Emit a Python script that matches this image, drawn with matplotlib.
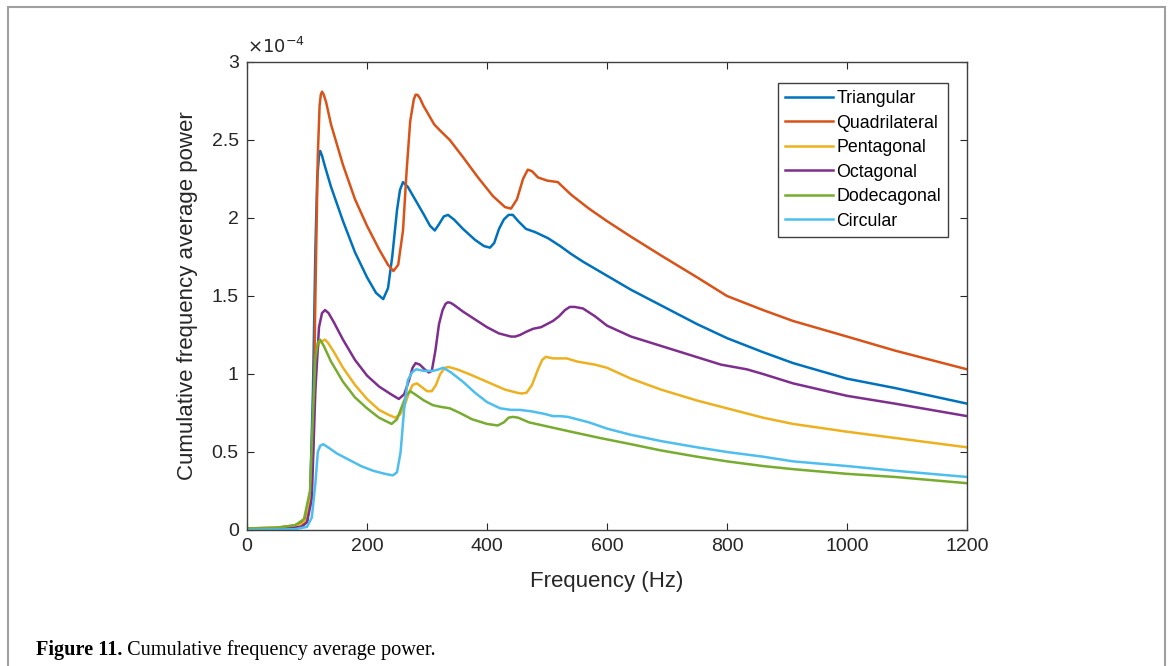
import numpy as np
import matplotlib
matplotlib.use("Agg")
import matplotlib.pyplot as plt
from matplotlib.patches import Rectangle
from matplotlib.ticker import FormatStrFormatter

# values, power in units of 1e-4
tri_f = [0, 60, 90, 100, 105, 110, 114, 117, 120, 122, 125, 130, 140, 160, 180, 200, 215, 227, 235,
         242, 250, 255, 260, 268, 280, 295, 305, 313, 320, 328, 335, 345, 360, 380, 395, 405, 412,
         420, 428, 436, 443, 452, 465, 480, 502, 522, 540, 560, 600, 640, 690, 750, 800, 860, 910,
         1000, 1080, 1140, 1200]
tri_p = [0.005, 0.01, 0.02, 0.05, 0.2, 0.9, 1.8, 2.25, 2.40, 2.43, 2.40, 2.33, 2.2, 1.98, 1.78, 1.62,
         1.52, 1.48, 1.55, 1.75, 2.05, 2.18, 2.23, 2.2, 2.12, 2.02, 1.95, 1.92, 1.96, 2.01, 2.02,
         1.99, 1.93, 1.86, 1.82, 1.81, 1.84, 1.93, 1.99, 2.02, 2.02, 1.98, 1.93, 1.91, 1.87, 1.82,
         1.77, 1.72, 1.63, 1.54, 1.44, 1.32, 1.23, 1.14, 1.07, 0.97, 0.91, 0.86, 0.81]

quad_f = [0, 50, 80, 95, 105, 110, 114, 118, 121, 123, 125, 128, 132, 140, 160, 180, 200, 220, 235,
          244, 252, 260, 266, 272, 278, 281, 284, 288, 294, 300, 312, 322, 338, 360, 385, 410, 430,
          440, 450, 460, 468, 475, 485, 500, 518, 540, 570, 600, 640, 690, 750, 800, 860, 910, 1000,
          1080, 1140, 1200]
quad_p = [0.01, 0.015, 0.03, 0.06, 0.15, 0.5, 1.5, 2.4, 2.72, 2.79, 2.81, 2.79, 2.74, 2.6, 2.34, 2.12,
          1.95, 1.8, 1.7, 1.66, 1.70, 1.92, 2.3, 2.62, 2.76, 2.79, 2.79, 2.77, 2.72, 2.68, 2.6, 2.56,
          2.5, 2.39, 2.26, 2.14, 2.07, 2.06, 2.12, 2.25, 2.31, 2.30, 2.26, 2.24, 2.23, 2.15, 2.06,
          1.98, 1.88, 1.76, 1.62, 1.50, 1.41, 1.34, 1.24, 1.15, 1.09, 1.03]

pent_f = [0, 60, 90, 100, 107, 112, 116, 120, 125, 130, 135, 145, 160, 180, 200, 220, 235, 247, 255,
          262, 270, 276, 283, 290, 300, 308, 315, 322, 330, 336, 350, 370, 400, 430, 450, 458, 466,
          475, 485, 492, 498, 510, 533, 550, 580, 600, 640, 690, 750, 800, 860, 910, 1000, 1080,
          1140, 1200]
pent_p = [0.01, 0.012, 0.03, 0.07, 0.3, 0.8, 1.12, 1.2, 1.21, 1.22, 1.2, 1.14, 1.04, 0.93, 0.84, 0.77,
          0.74, 0.72, 0.74, 0.79, 0.88, 0.93, 0.94, 0.92, 0.89, 0.89, 0.93, 1.0, 1.04, 1.045, 1.03,
          1.0, 0.95, 0.9, 0.88, 0.875, 0.88, 0.93, 1.03, 1.09, 1.11, 1.10, 1.10, 1.08, 1.06, 1.04,
          0.97, 0.90, 0.83, 0.78, 0.72, 0.68, 0.63, 0.59, 0.56, 0.53]

oct_f = [0, 60, 90, 100, 108, 114, 120, 125, 130, 136, 145, 160, 180, 200, 220, 240, 253, 262, 270,
         276, 281, 288, 296, 303, 308, 314, 320, 326, 331, 335, 340, 346, 360, 380, 400, 420, 440,
         447, 455, 465, 477, 490, 500, 510, 520, 530, 538, 546, 560, 580, 600, 640, 690, 740, 790,
         833, 860, 910, 1000, 1080, 1140, 1200]
oct_p = [0.005, 0.008, 0.02, 0.05, 0.2, 0.9, 1.3, 1.39, 1.41, 1.39, 1.33, 1.22, 1.09, 0.99, 0.92, 0.87,
         0.84, 0.87, 0.96, 1.04, 1.07, 1.06, 1.03, 1.01, 1.02, 1.15, 1.32, 1.41, 1.45, 1.46, 1.455,
         1.44, 1.40, 1.35, 1.30, 1.26, 1.24, 1.24, 1.25, 1.27, 1.29, 1.30, 1.32, 1.34, 1.37, 1.41,
         1.43, 1.43, 1.42, 1.37, 1.31, 1.24, 1.18, 1.12, 1.06, 1.03, 1.00, 0.94, 0.86, 0.81, 0.77,
         0.73]

dodec_f = [0, 50, 80, 95, 105, 110, 114, 118, 122, 128, 140, 160, 180, 200, 220, 241, 250, 258, 265,
           272, 280, 295, 310, 322, 338, 355, 375, 400, 418, 428, 436, 443, 452, 470, 505, 540, 588,
           640, 690, 750, 800, 860, 910, 1000, 1080, 1140, 1200]
dodec_p = [0.01, 0.015, 0.03, 0.07, 0.25, 0.75, 1.1, 1.2, 1.22, 1.18, 1.08, 0.95, 0.85, 0.78, 0.72,
           0.68, 0.71, 0.79, 0.86, 0.89, 0.87, 0.83, 0.80, 0.79, 0.78, 0.75, 0.71, 0.68, 0.67, 0.69,
           0.72, 0.725, 0.72, 0.69, 0.66, 0.63, 0.59, 0.55, 0.51, 0.47, 0.44, 0.41, 0.39, 0.36, 0.34,
           0.32, 0.30]

circ_f = [0, 80, 100, 108, 114, 118, 122, 127, 135, 150, 170, 190, 210, 230, 243, 250, 256, 262, 268,
          275, 282, 295, 310, 320, 327, 340, 360, 380, 400, 422, 440, 455, 475, 495, 510, 522, 535,
          550, 570, 600, 640, 690, 750, 800, 860, 910, 1000, 1080, 1140, 1200]
circ_p = [0.0, 0.005, 0.02, 0.08, 0.3, 0.5, 0.54, 0.55, 0.53, 0.49, 0.45, 0.41, 0.38, 0.36, 0.35, 0.37,
          0.5, 0.78, 0.96, 1.01, 1.03, 1.02, 1.02, 1.03, 1.04, 1.01, 0.95, 0.88, 0.82, 0.78, 0.77,
          0.77, 0.76, 0.745, 0.73, 0.73, 0.725, 0.71, 0.69, 0.65, 0.61, 0.57, 0.53, 0.50, 0.47, 0.44,
          0.41, 0.38, 0.36, 0.34]

names = ["Triangular", "Quadrilateral", "Pentagonal", "Octagonal", "Dodecagonal", "Circular"]
colors = ["#0072BD", "#D95319", "#EDB120", "#7E2F8E", "#77AC30", "#4DBEEE"]
series = [(tri_f, tri_p), (quad_f, quad_p), (pent_f, pent_p), (oct_f, oct_p),
          (dodec_f, dodec_p), (circ_f, circ_p)]

plt.rcParams['font.family'] = ['Liberation Sans', 'DejaVu Sans']

fig = plt.figure(figsize=(11.68, 6.66), dpi=100)
ax = fig.add_axes([247/1168, 1-530/666, 720/1168, 468/666])

for (f, p), name, c in zip(series, names, colors):
    ax.plot(f, p, color=c, lw=1.8, label=name)

ax.set_xlim(0, 1200)
ax.set_ylim(0, 3)
ax.set_xticks(np.arange(0, 1201, 200))
ax.set_yticks(np.arange(0, 3.01, 0.5))
ax.yaxis.set_major_formatter(FormatStrFormatter('%g'))
ax.tick_params(direction='in', top=True, right=True, length=5, width=0.8,
               labelsize=14, colors='#262626', pad=6)
for s in ax.spines.values():
    s.set_color('#404040')
    s.set_linewidth(1.0)

ax.set_xlabel('Frequency (Hz)', fontsize=16, color='#262626', labelpad=11)
ax.set_ylabel('Cumulative frequency average power', fontsize=16, color='#262626', labelpad=10)
ax.text(0.0, 1.01, r'$\times10^{-4}$', transform=ax.transAxes, fontsize=13,
        color='#262626', va='bottom', ha='left')

leg = ax.legend(loc='upper right', bbox_to_anchor=(0.974, 0.955), borderaxespad=0,
                fontsize=12.8, handlelength=2.7, handletextpad=0.2, labelspacing=0.42,
                fancybox=False, framealpha=1, borderpad=0.4)
leg.get_frame().set_edgecolor('#404040')
leg.get_frame().set_linewidth(1.0)

# figure border and caption
fig.add_artist(Rectangle((8/1168, -0.02), 1157/1168, 1.02 - 7/666, transform=fig.transFigure,
                         fill=False, edgecolor='#a0a0a0', lw=1.5))
t1 = fig.text(36/1168, 1-655/666, 'Figure 11.', fontsize=14.6, fontweight='bold',
              family='Liberation Serif', va='baseline')
ax.annotate(' Cumulative frequency average power.', xy=(1, 0), xycoords=t1, fontsize=14.6,
            family='Liberation Serif', va='bottom', ha='left', annotation_clip=False)

fig.savefig('out.png', dpi=100)
